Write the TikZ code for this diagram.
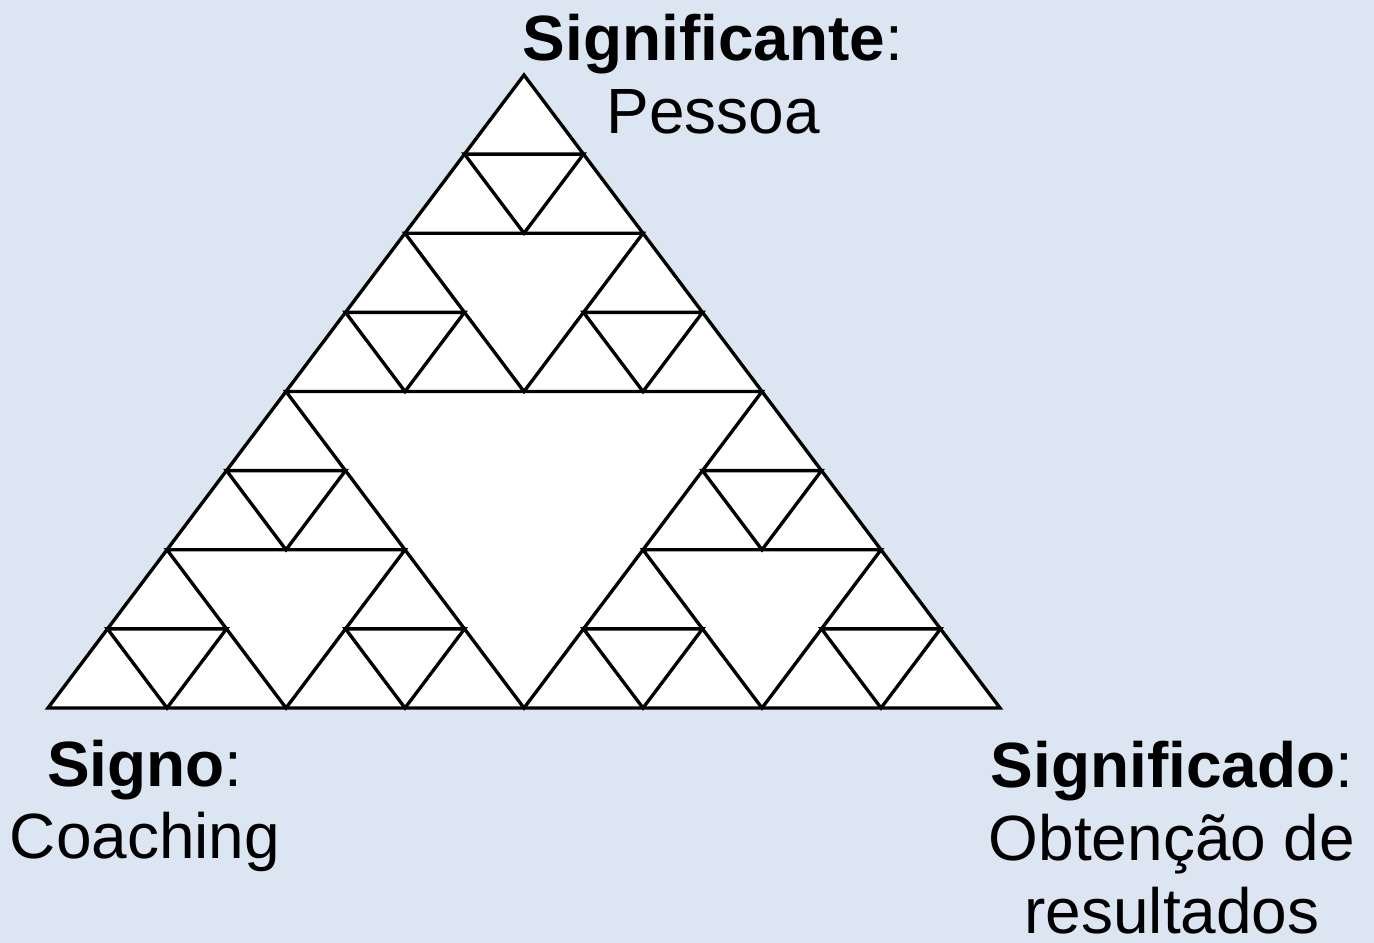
\documentclass[tikz,border=0pt]{standalone}
\usepackage{fontspec}
\setmainfont{Liberation Sans}
\usepackage{tikz}
\usetikzlibrary{positioning}
\definecolor{fondBleu}{RGB}{220,230,242}

% petit triangle inversé : sommet x, sommet y, demi-largeur, hauteur
\newcommand{\trou}[4]{%
  \draw[tri] ({(#1)-(#3)/2},{(#2)+(#4)/2}) -- ({(#1)+(#3)/2},{(#2)+(#4)/2})
             -- ({#1},{(#2)+(#4)}) -- cycle;}

\begin{document}
\begin{tikzpicture}[x=0.02cm, y=-0.02cm,
  tri/.style={draw=black, line width=1.9pt, fill=white, line join=miter},
  etiq/.style={align=center, font=\fontsize{36.4}{41.5}\selectfont, inner sep=0pt}]

% Fond
\fill[fondBleu] (0,0) rectangle (1374,943);
\useasboundingbox (0,0) rectangle (1374,943);

% Grand triangle
\draw[tri] (524,75) -- (48,708) -- (1000,708) -- cycle;

% Niveau 1
\trou{524}{75}{476}{633}

% Niveaux 2 et 3
\foreach \ax/\ay in {524/75, 286/391.5, 762/391.5} {
  \trou{\ax}{\ay}{238}{316.5}
  \foreach \dx/\dy in {0/0, -119/158.25, 119/158.25} {
    \trou{\ax+\dx}{\ay+\dy}{119}{158.25}
  }
}

% Etiquettes
\node[etiq] (signifiante) at (713,74) {\textbf{Significante}:\\Pessoa};
\node[etiq] (signo) at (145,806) {\textbf{Signo}:\\Coaching};
\node[etiq] (signifie) at (1172,838) {\textbf{Significado}:\\Obtenção de\\resultados};

\end{tikzpicture}
\end{document}
